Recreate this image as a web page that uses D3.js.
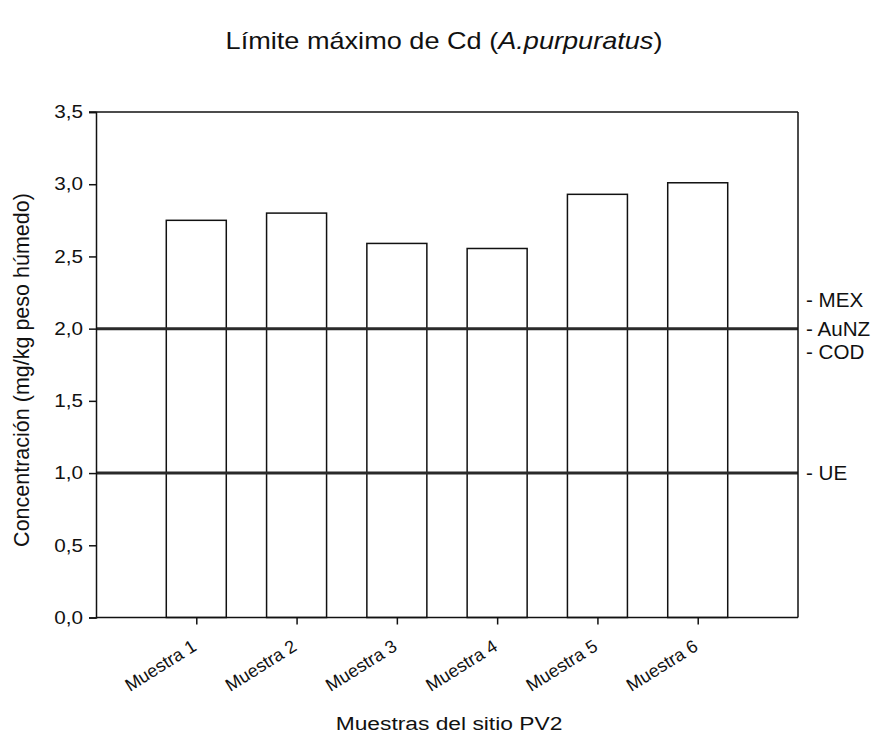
<!DOCTYPE html>
<html>
<head>
<meta charset="utf-8">
<script src="https://cdn.jsdelivr.net/npm/d3@7/dist/d3.min.js"></script>
<style>
  body { margin: 0; background: #fff; }
  svg { display: block; font-family: Arial, "Liberation Sans", sans-serif; }
</style>
</head>
<body>
<svg id="chart" width="883" height="739"></svg>
<script>
// Cd concentration per sample
const categories = ["Muestra 1", "Muestra 2", "Muestra 3", "Muestra 4", "Muestra 5", "Muestra 6"];
const values = [2.75, 2.80, 2.59, 2.555, 2.93, 3.01];

// Regulatory limit lines and their labels
const limitValues = [2.0, 1.0];
const limitLabels = [
  { text: "- MEX", value: 2.2 },
  { text: "- AuNZ", value: 2.0 },
  { text: "- COD", value: 1.84 },
  { text: "- UE", value: 1.0 }
];
const yTicks = [0, 0.5, 1.0, 1.5, 2.0, 2.5, 3.0, 3.5];

const svg = d3.select("#chart");
const plotLeft = 96, plotRight = 798, plotTop = 112, plotBottom = 617.5;
const ink = "#111";
const font = "Arial, 'Liberation Sans', sans-serif";

const x = d3.scalePoint().domain(categories).range([plotLeft, plotRight]).padding(1);
const y = d3.scaleLinear().domain([0, 3.5]).range([plotBottom, plotTop]);
const barW = 60;
const fmt = d => d3.format(".1f")(d).replace(".", ",");

// Bars
svg.append("g").selectAll("rect").data(values).join("rect")
  .attr("x", (d, i) => x(categories[i]) - barW / 2)
  .attr("y", d => y(d))
  .attr("width", barW)
  .attr("height", d => y(0) - y(d))
  .attr("fill", "#fff")
  .attr("stroke", ink)
  .attr("stroke-width", 1.5);

// Limit lines
svg.append("g").selectAll("line").data(limitValues).join("line")
  .attr("x1", plotLeft).attr("x2", plotRight)
  .attr("y1", d => y(d)).attr("y2", d => y(d))
  .attr("stroke", "#2a2a2a")
  .attr("stroke-width", 3);

// Frame: top and right edges
svg.append("line").attr("x1", plotLeft - 7).attr("x2", plotRight).attr("y1", plotTop).attr("y2", plotTop)
  .attr("stroke", ink).attr("stroke-width", 1.5);
svg.append("line").attr("x1", plotRight).attr("x2", plotRight).attr("y1", plotTop).attr("y2", plotBottom)
  .attr("stroke", ink).attr("stroke-width", 1.5);

// Y axis (labels slightly widened)
const tickSX = 1.15, tickGap = 6;
const yAxis = svg.append("g").attr("transform", `translate(${plotLeft},0)`)
  .call(d3.axisLeft(y).tickValues(yTicks).tickFormat(fmt).tickSize(7));
yAxis.select(".domain").attr("stroke", ink).attr("stroke-width", 1.5);
yAxis.selectAll(".tick line").attr("stroke", ink).attr("stroke-width", 1.5);
yAxis.selectAll("text")
  .attr("font-size", 18).attr("fill", ink).attr("font-family", font)
  .attr("x", -(7 + tickGap) / tickSX)
  .attr("transform", `scale(${tickSX},1)`);

// X axis
const xAxis = svg.append("g").attr("transform", `translate(0,${plotBottom})`)
  .call(d3.axisBottom(x).tickSize(7).tickSizeOuter(0));
xAxis.select(".domain").attr("stroke", ink).attr("stroke-width", 1.5)
  .attr("d", `M${plotLeft},0H${plotRight}`);
xAxis.selectAll(".tick line").attr("stroke", ink).attr("stroke-width", 1.5);
xAxis.selectAll("text")
  .attr("font-size", 18).attr("fill", ink).attr("font-family", font)
  .attr("text-anchor", "end")
  .attr("dy", null).attr("y", null)
  .attr("transform", "translate(1,32) rotate(-32)");

// Limit labels on the right
svg.append("g").selectAll("text").data(limitLabels).join("text")
  .attr("transform", d => `translate(${plotRight + 8},${y(d.value)}) scale(1.03,1)`)
  .attr("dy", "0.35em")
  .attr("font-size", 20)
  .attr("fill", ink)
  .text(d => d.text);

// Title
const title = svg.append("text")
  .attr("transform", "translate(444,49) scale(1.13,1)")
  .attr("text-anchor", "middle").attr("font-size", 24).attr("fill", ink);
title.append("tspan").text("Límite máximo de Cd (");
title.append("tspan").attr("font-style", "italic").text("A.purpuratus");
title.append("tspan").text(")");

// Axis titles
svg.append("text")
  .attr("transform", "translate(449,730) scale(1.2,1)")
  .attr("text-anchor", "middle").attr("font-size", 19).attr("fill", ink)
  .text("Muestras del sitio PV2");
svg.append("text")
  .attr("transform", "translate(29,370) rotate(-90)")
  .attr("text-anchor", "middle").attr("font-size", 21.5).attr("fill", ink)
  .text("Concentración (mg/kg peso húmedo)");
</script>
</body>
</html>
